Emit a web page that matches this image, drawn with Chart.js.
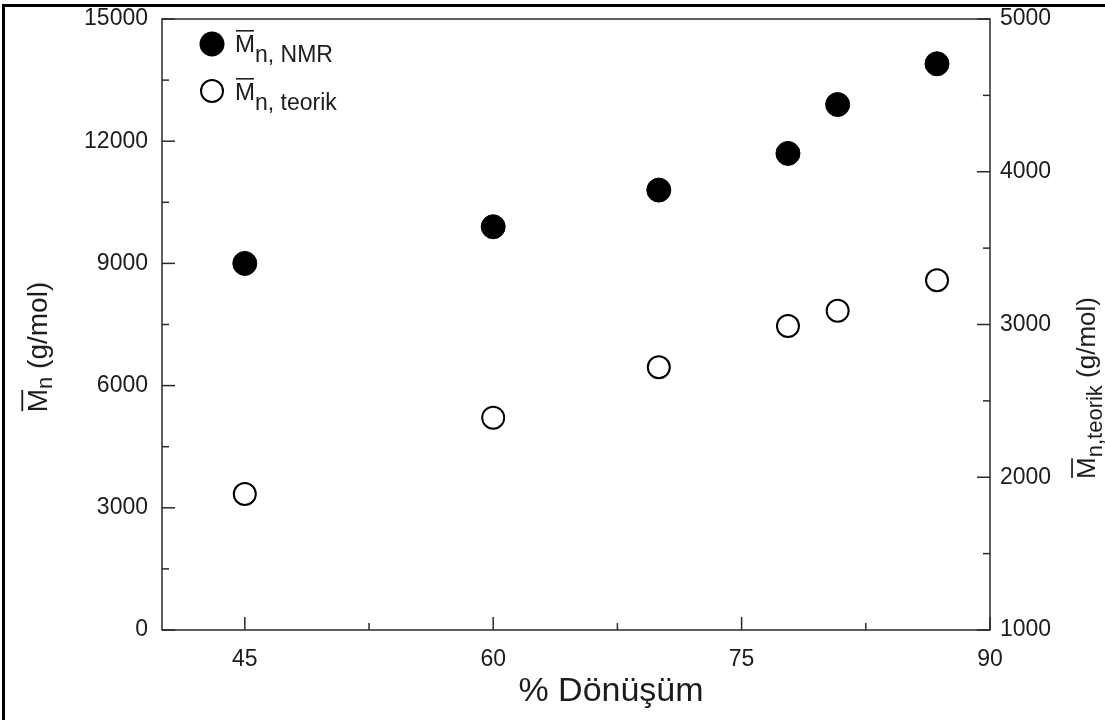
<!DOCTYPE html>
<html>
<head>
<meta charset="utf-8">
<title>Mn - Dönüşüm</title>
<script src="https://cdn.jsdelivr.net/npm/chart.js@4/dist/chart.umd.min.js"></script>
<style>
  html, body { margin: 0; padding: 0; background: #fff; }
  canvas { display: block; }
</style>
</head>
<body>
<canvas id="mnChart" width="1105" height="720"></canvas>
<script>
// % dönüşüm (x ekseni)
const conversion = [45, 60, 70, 77.8, 80.8, 86.8];
// Mn, NMR (sol eksen, g/mol)
const mnNmr = [9000, 9900, 10800, 11700, 12900, 13900];
// Mn, teorik (sağ eksen, g/mol)
const mnTeorik = [1890, 2390, 2720, 2990, 3090, 3290];

// eksen tikleri
const xMajor = [45, 60, 75, 90];
const xMinor = [52.5, 67.5, 82.5];
const yLeftMajor = [0, 3000, 6000, 9000, 12000, 15000];
const yLeftMinor = [1500, 4500, 7500, 10500, 13500];
const yRightMajor = [1000, 2000, 3000, 4000, 5000];
const yRightMinor = [1500, 2500, 3500, 4500];

const FONT = '"Liberation Sans", Arial, Helvetica, sans-serif';
const INK = '#1c1c1c';

const toPoints = (ys) => conversion.map((x, i) => ({ x, y: ys[i] }));
const fixedTicks = (list) => (scale) => { scale.ticks = list.map(value => ({ value })); };

// M harfi + üst çizgi + alt indis (+ devamı)
function measureMn(ctx, size, sub, subSize, tail) {
  ctx.font = `${size}px ${FONT}`;
  let w = ctx.measureText('M').width;
  if (tail) w += ctx.measureText(tail).width;
  ctx.font = `${subSize}px ${FONT}`;
  return w + ctx.measureText(sub).width;
}
function drawMn(ctx, x, y, size, sub, subSize, drop, tail) {
  ctx.font = `${size}px ${FONT}`;
  ctx.fillText('M', x, y);
  const mw = ctx.measureText('M').width;
  ctx.fillRect(x + 1, y - size * 0.716 - size * 0.2, mw - 2, Math.max(1.5, size * 0.065));
  ctx.font = `${subSize}px ${FONT}`;
  ctx.fillText(sub, x + mw, y + drop);
  let w = mw + ctx.measureText(sub).width;
  if (tail) {
    ctx.font = `${size}px ${FONT}`;
    ctx.fillText(tail, x + w, y);
  }
}

const decor = {
  id: 'decor',
  afterDraw(chart) {
    const { ctx, chartArea: a, scales } = chart;
    ctx.save();

    // dış çerçeve (üst ve sol kenar)
    ctx.fillStyle = '#000';
    ctx.fillRect(2, 4, chart.width - 2, 3);
    ctx.fillRect(2, 4, 3, chart.height - 4);

    // çizim alanı kutusu
    ctx.strokeStyle = '#2a2a2a';
    ctx.lineWidth = 1.5;
    ctx.strokeRect(a.left, a.top, a.right - a.left, a.bottom - a.top);

    // içe bakan tik çizgileri
    const line = (x1, y1, x2, y2) => { ctx.beginPath(); ctx.moveTo(x1, y1); ctx.lineTo(x2, y2); ctx.stroke(); };
    xMajor.forEach(v => { const p = scales.x.getPixelForValue(v); line(p, a.bottom, p, a.bottom - 13); });
    xMinor.forEach(v => { const p = scales.x.getPixelForValue(v); line(p, a.bottom, p, a.bottom - 7); });
    yLeftMajor.forEach(v => { const p = scales.y.getPixelForValue(v); line(a.left, p, a.left + 13, p); });
    yLeftMinor.forEach(v => { const p = scales.y.getPixelForValue(v); line(a.left, p, a.left + 7, p); });
    yRightMajor.forEach(v => { const p = scales.y2.getPixelForValue(v); line(a.right, p, a.right - 13, p); });
    yRightMinor.forEach(v => { const p = scales.y2.getPixelForValue(v); line(a.right, p, a.right - 7, p); });

    ctx.fillStyle = INK;
    ctx.textBaseline = 'alphabetic';
    ctx.textAlign = 'left';

    // lejant
    ctx.beginPath();
    ctx.arc(212, 44, 12.5, 0, Math.PI * 2);
    ctx.fillStyle = '#000';
    ctx.fill();
    ctx.beginPath();
    ctx.arc(212, 91, 11, 0, Math.PI * 2);
    ctx.strokeStyle = '#000';
    ctx.lineWidth = 2;
    ctx.stroke();
    ctx.fillStyle = INK;
    drawMn(ctx, 235, 52, 24, 'n, NMR', 23, 10);
    drawMn(ctx, 235, 100, 24, 'n, teorik', 23, 10);

    // x ekseni başlığı
    ctx.font = `34px ${FONT}`;
    ctx.textAlign = 'center';
    ctx.fillText('% Dönüşüm', 611, 701);
    ctx.textAlign = 'left';

    // sol eksen başlığı
    ctx.save();
    ctx.translate(47, 347);
    ctx.rotate(-Math.PI / 2);
    let w = measureMn(ctx, 28, 'n', 22, ' (g/mol)');
    drawMn(ctx, -w / 2, 0, 28, 'n', 22, 5, ' (g/mol)');
    ctx.restore();

    // sağ eksen başlığı
    ctx.save();
    ctx.translate(1095, 388);
    ctx.rotate(-Math.PI / 2);
    w = measureMn(ctx, 26, 'n,teorik', 22, ' (g/mol)');
    drawMn(ctx, -w / 2, 0, 26, 'n,teorik', 22, 7, ' (g/mol)');
    ctx.restore();

    ctx.restore();
  }
};

const tickFont = { family: FONT, size: 23 };
// etiket taşmasının çizim alanını itmesini engelle
const noOverflow = (s) => { s.paddingTop = 0; s.paddingBottom = 0; s.paddingLeft = 0; s.paddingRight = 0; };

new Chart(document.getElementById('mnChart'), {
  type: 'scatter',
  data: {
    datasets: [
      {
        label: 'Mn, NMR',
        data: toPoints(mnNmr),
        yAxisID: 'y',
        pointRadius: 12,
        pointBackgroundColor: '#000',
        pointBorderColor: '#000',
        pointBorderWidth: 1
      },
      {
        label: 'Mn, teorik',
        data: toPoints(mnTeorik),
        yAxisID: 'y2',
        pointRadius: 11,
        pointBackgroundColor: '#fff',
        pointBorderColor: '#000',
        pointBorderWidth: 2
      }
    ]
  },
  options: {
    responsive: false,
    animation: false,
    layout: { padding: { top: 19, left: 0, right: 0, bottom: 0 } },
    plugins: { legend: { display: false }, tooltip: { enabled: false } },
    scales: {
      x: {
        type: 'linear',
        min: 40,
        max: 90,
        afterBuildTicks: fixedTicks(xMajor),
        afterFit: (s) => { s.height = 90; noOverflow(s); },
        grid: { display: false, drawTicks: false },
        border: { display: false },
        ticks: { font: tickFont, color: INK, padding: 16, maxRotation: 0, autoSkip: false, callback: (v) => String(v) }
      },
      y: {
        position: 'left',
        min: 0,
        max: 15000,
        afterBuildTicks: fixedTicks(yLeftMajor),
        afterFit: (s) => { s.width = 162; noOverflow(s); },
        grid: { display: false, drawTicks: false },
        border: { display: false },
        ticks: { font: tickFont, color: INK, padding: 14, autoSkip: false, callback: (v) => String(v) }
      },
      y2: {
        position: 'right',
        min: 1000,
        max: 5000,
        afterBuildTicks: fixedTicks(yRightMajor),
        afterFit: (s) => { s.width = 115; noOverflow(s); },
        grid: { display: false, drawTicks: false },
        border: { display: false },
        ticks: { font: tickFont, color: INK, padding: 10, autoSkip: false, callback: (v) => String(v) }
      }
    }
  },
  plugins: [decor]
});
</script>
</body>
</html>
